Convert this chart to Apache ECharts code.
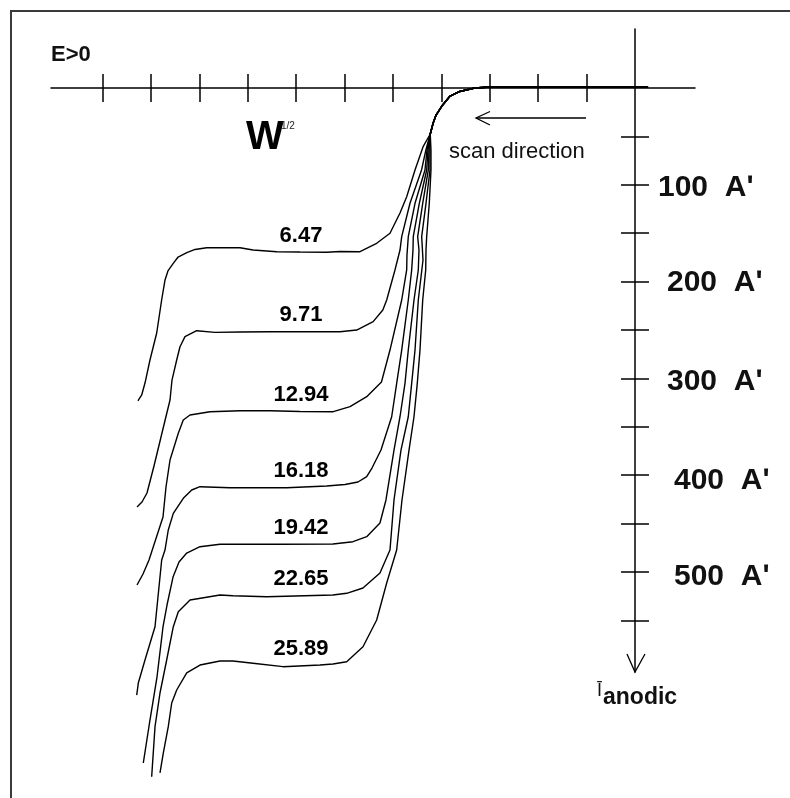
<!DOCTYPE html>
<html><head><meta charset="utf-8">
<script src="https://cdn.jsdelivr.net/npm/echarts@6/dist/echarts.min.js"></script>
<style>html,body{margin:0;padding:0;background:#fff}#c{width:790px;height:798px}</style>
</head><body><div id="c"></div>
<script>
// ---- data (E in tick units, I in microampere, positive = anodic, drawn downward) ----
const rotationLabels = ['6.47', '9.71', '12.94', '16.18', '19.42', '22.65', '25.89'];
const currentTickLabels = [100, 200, 300, 400, 500];
const currentMinorTicks = [50, 100, 150, 200, 250, 300, 350, 400, 450, 500, 550];
const potentialTicks = [-11, -10, -9, -8, -7, -6, -5, -4, -3, -2, -1];

const onsetCommon = [[0.27,-1],[-0.72,-1],[-1.96,-1],[-3.00,-1],[-3.31,0],[-3.62,3.6],[-3.82,8.3],[-3.99,18.6],[-4.11,27.9],[-4.17,36.2],[-4.23,47.5]];

const curve647 = [[-4.38,60.9],[-4.545,84.7],[-4.717,112.3],[-4.855,129.1],[-5.062,150.1],[-5.337,160.4],[-5.682,169.1],[-6.095,168.9],[-6.37,169.7],[-6.92,169.4],[-7.40,169.1],[-7.89,167.4],[-8.16,165.0],[-8.57,165.0],[-8.85,165.0],[-9.09,166.8],[-9.26,170.1],[-9.44,174.6],[-9.54,181.1],[-9.65,189.0],[-9.71,198.3],[-9.78,219.0],[-9.882,253.1],[-10.021,281.0],[-10.124,304.8],[-10.192,317.1],[-10.248,321.3],[-10.269,323.2]];
const curve971 = [[-4.32,64.0],[-4.41,84.7],[-4.649,119.1],[-4.82,153.6],[-4.855,167.4],[-4.959,188.0],[-5.13,219.0],[-5.21,229.3],[-5.41,241.4],[-5.75,250.0],[-6.095,251.8],[-6.92,251.8],[-7.54,251.8],[-8.16,252.1],[-8.68,252.4],[-9.056,250.7],[-9.298,256.9],[-9.401,267.3],[-9.469,281.0],[-9.566,301.7],[-9.607,322.3],[-9.773,356.4],[-9.938,390.5],[-10.083,418.4],[-10.186,427.7],[-10.289,432.9]];
const curve1294 = [[-4.298,64.0],[-4.339,84.7],[-4.545,119.1],[-4.684,153.6],[-4.711,172.5],[-4.717,188.0],[-4.82,219.0],[-5.062,270.7],[-5.238,303.7],[-5.543,318.9],[-5.888,329.2],[-6.233,334.4],[-6.921,334.2],[-7.541,333.4],[-8.161,333.4],[-8.781,334.4],[-9.194,337.8],[-9.333,343.0],[-9.436,356.7],[-9.607,384.3],[-9.69,412.2],[-9.752,443.2],[-10.041,487.6],[-10.165,502.1],[-10.289,513.4]];
const curve1618 = [[-4.277,64.0],[-4.304,84.7],[-4.456,119.1],[-4.581,153.6],[-4.587,167.4],[-4.614,188.0],[-4.684,219.0],[-4.82,270.7],[-4.924,305.1],[-5.027,339.6],[-5.248,374.0],[-5.434,392.6],[-5.543,401.5],[-5.723,407.0],[-5.992,409.6],[-6.37,411.2],[-7.196,412.9],[-8.368,412.9],[-8.988,411.9],[-9.159,415.3],[-9.333,423.9],[-9.539,439.4],[-9.643,456.6],[-9.711,477.3],[-9.779,487.6],[-9.917,556.5],[-10.124,590.9],[-10.262,614.7],[-10.295,627.1]];
const curve1942 = [[-4.256,64.0],[-4.27,84.7],[-4.386,119.1],[-4.49,153.6],[-4.463,167.4],[-4.477,188.0],[-4.566,219.0],[-4.684,270.7],[-4.752,305.1],[-4.855,339.6],[-4.979,374.0],[-5.145,425.6],[-5.269,449.4],[-5.543,463.5],[-5.826,468.7],[-6.24,471.1],[-7.335,471.4],[-8.574,471.4],[-8.988,473.9],[-9.262,480.4],[-9.421,489.7],[-9.545,505.2],[-9.669,534.1],[-9.752,556.8],[-9.876,608.5],[-10.021,652.9],[-10.159,697.3]];
const curve2265 = [[-4.236,64.0],[-4.236,84.7],[-4.318,119.1],[-4.407,153.6],[-4.38,177.7],[-4.477,219.0],[-4.545,270.7],[-4.614,305.1],[-4.684,339.6],[-4.835,374.0],[-4.979,425.6],[-5.062,477.3],[-5.269,501.0],[-5.62,516.5],[-5.957,522.0],[-6.24,523.8],[-7.61,525.5],[-8.306,524.5],[-8.574,523.8],[-9.194,528.9],[-9.436,541.0],[-9.539,556.5],[-9.676,590.9],[-9.814,625.0],[-9.917,659.8],[-9.986,711.5]];
const curve2589 = [[-4.215,64.0],[-4.215,84.7],[-4.25,119.1],[-4.304,153.6],[-4.318,167.4],[-4.324,188.0],[-4.386,219.0],[-4.442,270.7],[-4.498,305.1],[-4.566,339.6],[-4.669,374.0],[-4.814,425.6],[-4.924,477.3],[-5.13,511.4],[-5.337,549.6],[-5.62,577.2],[-5.957,592.7],[-6.24,595.0],[-6.508,596.1],[-7.273,597.8],[-7.893,594.3],[-8.306,591.9],[-8.574,591.9],[-8.988,596.1],[-9.262,604.3],[-9.469,621.9],[-9.572,635.3],[-9.643,659.8],[-9.746,687.0],[-9.814,707.6]];

const curves = [curve647, curve971, curve1294, curve1618, curve1942, curve2265, curve2589];

// ---- chart ----
const FONT = 'Liberation Sans';
const X_MIN = -12.066, X_MAX = 1.240, Y_MIN = -60.95, Y_MAX = 603.3;
const labelAnchorX = -6.90;

function yAt(pts, x) {
  for (let i = 1; i < pts.length; i++) {
    const a = pts[i - 1], b = pts[i];
    if ((a[0] - x) * (b[0] - x) <= 0 && a[0] !== b[0]) {
      return a[1] + (b[1] - a[1]) * (x - a[0]) / (b[0] - a[0]);
    }
  }
  return pts[0][1];
}

const lineSeries = curves.map((c, i) => ({
  type: 'line', name: rotationLabels[i], data: onsetCommon.concat(c),
  showSymbol: false, smooth: false, clip: false, silent: true,
  lineStyle: { color: '#000', width: 1.4 }, z: 3
}));

const labelSeries = {
  type: 'scatter', silent: true, clip: false, symbolSize: 1,
  itemStyle: { color: '#fff', opacity: 0 },
  data: curves.map((c, i) => [labelAnchorX, yAt(c, labelAnchorX), rotationLabels[i]]),
  label: { show: true, position: 'top', distance: 5, formatter: p => p.value[2],
    fontFamily: FONT, fontSize: 22, fontWeight: 'bold', color: '#000',
    textBorderWidth: 0, opacity: 1 },
  z: 5
};

const labelPad = { 100: [6, 0, 0, 0], 200: [2, 0, 0, 9], 300: [6, 0, 0, 9], 400: [11, 0, 0, 16], 500: [9, 0, 0, 16] };
const rich = {};
currentTickLabels.forEach(v => {
  rich['r' + v] = { fontFamily: FONT, fontSize: 30, fontWeight: 'bold', color: '#111', padding: labelPad[v] };
});

const axisLineStyle = { color: '#000', width: 1.5 };
const tickStyle = { color: '#000', width: 1.5 };

const chart = echarts.init(document.getElementById('c'), null, { renderer: 'canvas' });
chart.setOption({
  animation: false,
  backgroundColor: '#fff',
  grid: { left: 51, right: 95, top: 29, bottom: 126, containLabel: false, outerBoundsMode: 'none' },
  xAxis: [
    { type: 'value', min: X_MIN, max: X_MAX, position: 'bottom',
      axisLine: { show: true, onZero: true, onZeroAxisIndex: 0, lineStyle: axisLineStyle },
      axisTick: { show: true, length: 14, customValues: potentialTicks, lineStyle: tickStyle },
      axisLabel: { show: false }, splitLine: { show: false } },
    { type: 'value', min: X_MIN, max: X_MAX, position: 'top',
      axisLine: { show: false, onZero: true, onZeroAxisIndex: 0 },
      axisTick: { show: true, length: 14, customValues: potentialTicks, lineStyle: tickStyle },
      axisLabel: { show: false }, splitLine: { show: false } }
  ],
  yAxis: [
    { type: 'value', min: Y_MIN, max: Y_MAX, inverse: true, position: 'left',
      axisLine: { show: true, onZero: true, onZeroAxisIndex: 0, lineStyle: axisLineStyle },
      axisTick: { show: true, length: 14, customValues: currentMinorTicks, lineStyle: tickStyle },
      axisLabel: { show: false }, splitLine: { show: false } },
    { type: 'value', min: Y_MIN, max: Y_MAX, inverse: true, position: 'right',
      axisLine: { show: false, onZero: true, onZeroAxisIndex: 0 },
      axisTick: { show: true, length: 14, customValues: currentMinorTicks, lineStyle: tickStyle },
      axisLabel: { show: true, margin: -37, customValues: currentTickLabels,
        formatter: v => '{r' + v + '|' + v + '  A\u02B9}', rich: rich },
      splitLine: { show: false } }
  ],
  series: lineSeries.concat([labelSeries]),
  graphic: [
    { type: 'polyline', silent: true, shape: { points: [[11, 798], [11, 11], [790, 11]] },
      style: { stroke: '#3a3a3a', lineWidth: 2, fill: null } },
    { type: 'text', silent: true, x: 51, y: 55.4,
      style: { text: 'E>0', font: 'bold 22px "Liberation Sans"', fill: '#111', verticalAlign: 'middle', align: 'left' } },
    { type: 'text', silent: true, x: 246, y: 138,
      style: { text: 'W', font: 'bold 40px "Liberation Sans"', fill: '#000', verticalAlign: 'middle', align: 'left' } },
    { type: 'text', silent: true, x: 281, y: 126.5,
      style: { text: '1/2', font: '10px "Liberation Sans"', fill: '#222', verticalAlign: 'middle', align: 'left' } },
    { type: 'text', silent: true, x: 449, y: 151.5,
      style: { text: 'scan direction', font: '22px "Liberation Sans"', fill: '#111', verticalAlign: 'middle', align: 'left' } },
    { type: 'polyline', silent: true, shape: { points: [[586, 118], [476, 118]] },
      style: { stroke: '#000', lineWidth: 1.3, fill: null } },
    { type: 'polyline', silent: true, shape: { points: [[490, 111.5], [476, 118], [490, 125]] },
      style: { stroke: '#000', lineWidth: 1.3, fill: null } },
    { type: 'text', silent: true, x: 597, y: 690.8,
      style: { text: '\u012A', font: '18px "Liberation Sans"', fill: '#111', verticalAlign: 'middle', align: 'left' } },
    { type: 'text', silent: true, x: 603, y: 698,
      style: { text: 'anodic', font: 'bold 23px "Liberation Sans"', fill: '#111', verticalAlign: 'middle', align: 'left' } }
  ]
});

const tip = chart.convertToPixel({ xAxisIndex: 0, yAxisIndex: 0 }, [0, Y_MAX]);
chart.setOption({
  graphic: [
    { id: 'axisArrow', type: 'polyline', silent: true,
      shape: { points: [[tip[0] - 8, tip[1] - 18], [tip[0], tip[1]], [tip[0] + 10, tip[1] - 18]] },
      style: { stroke: '#000', lineWidth: 1.3, fill: null } }
  ]
});
</script>
</body></html>
